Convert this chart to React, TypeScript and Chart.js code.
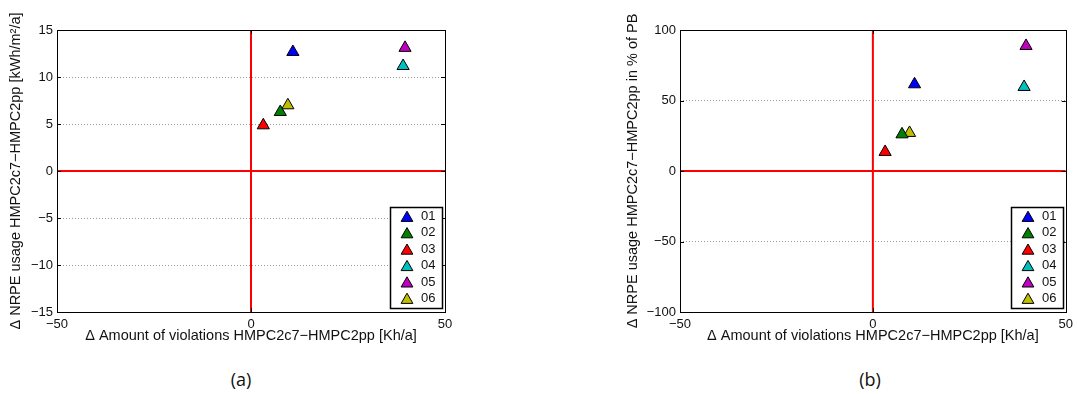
import React, { useEffect, useRef } from 'react';
import { Chart, registerables } from 'chart.js';

Chart.register(...registerables);

// ---- data ----
const seriesLabels = ['01', '02', '03', '04', '05', '06'];
const seriesColors = ['#0000ff', '#008000', '#ff0000', '#00bfbf', '#bf00bf', '#bfbf00'];
const violations = [10.8, 7.55, 3.17, 39.2, 39.7, 9.5];
const nrpeAbs = [12.66, 6.28, 4.86, 11.17, 13.1, 6.99];
const nrpePct = [61.5, 26, 13.5, 59.6, 88.7, 27];
const xTicks = [-50, 0, 50];
const yTicksA = [-15, -10, -5, 0, 5, 10, 15];
const yTicksB = [-100, -50, 0, 50, 100];

const xTitle = '\u0394 Amount of violations HMPC2c7\u2212HMPC2pp [Kh/a]';
const yTitleA = '\u0394 NRPE usage HMPC2c7\u2212HMPC2pp [kWh/m\u00b2/a]';
const yTitleB = '\u0394 NRPE usage HMPC2c7\u2212HMPC2pp in % of PB';

const FONT = "'Liberation Sans', Arial, Helvetica, sans-serif";
const fmt = (v: number) => String(v).replace('-', '\u2212');

const framePlugin = {
  id: 'frame',
  afterDatasetsDraw(chart: any) {
    const { ctx, chartArea: a, scales } = chart;
    ctx.save();
    ctx.strokeStyle = '#000';
    ctx.lineWidth = 1;
    const tl = 4;
    ctx.beginPath();
    for (const t of scales.y.ticks) {
      const py = Math.round(scales.y.getPixelForValue(t.value)) + 0.5;
      ctx.moveTo(a.left, py); ctx.lineTo(a.left + tl, py);
      ctx.moveTo(a.right, py); ctx.lineTo(a.right - tl, py);
    }
    for (const t of scales.x.ticks) {
      const px = Math.round(scales.x.getPixelForValue(t.value)) + 0.5;
      ctx.moveTo(px, a.bottom); ctx.lineTo(px, a.bottom - tl);
      ctx.moveTo(px, a.top); ctx.lineTo(px, a.top + tl);
    }
    ctx.stroke();
    ctx.strokeRect(Math.round(a.left) + 0.5, Math.round(a.top) + 0.5, Math.round(a.right - a.left), Math.round(a.bottom - a.top));
    ctx.restore();
  },
};

function triangle(ctx: CanvasRenderingContext2D, x: number, y: number, r: number) {
  ctx.beginPath();
  let rad = 0;
  ctx.moveTo(x + Math.sin(rad) * r, y - Math.cos(rad) * r);
  rad += (2 * Math.PI) / 3;
  ctx.lineTo(x + Math.sin(rad) * r, y - Math.cos(rad) * r);
  rad += (2 * Math.PI) / 3;
  ctx.lineTo(x + Math.sin(rad) * r, y - Math.cos(rad) * r);
  ctx.closePath();
}

const legendPlugin = {
  id: 'boxLegend',
  afterDraw(chart: any) {
    const { ctx, chartArea: a } = chart;
    const items = chart.data.datasets.filter((d: any) => !d.isRef);
    const w = 52, rowH = 16.4;
    const h = 101;
    const right = Math.round(a.right) - 3;
    const bottom = Math.round(a.bottom) - 4;
    const left = right - w, top = bottom - h;
    ctx.save();
    ctx.fillStyle = '#fff';
    ctx.fillRect(left, top, w, h);
    ctx.strokeStyle = '#000';
    ctx.lineWidth = 1.5;
    ctx.strokeRect(left + 0.5, top + 0.5, w, h);
    ctx.font = `13px ${FONT}`;
    ctx.textBaseline = 'middle';
    ctx.textAlign = 'left';
    items.forEach((d: any, i: number) => {
      const cy = top + 9.5 + i * rowH + 1.5;
      triangle(ctx, left + 17, cy, 6.8);
      ctx.fillStyle = d.backgroundColor;
      ctx.fill();
      ctx.lineWidth = 1;
      ctx.strokeStyle = '#000';
      ctx.stroke();
      ctx.fillStyle = '#111';
      ctx.fillText(d.label, left + 31, top + 9.5 + i * rowH);
    });
    ctx.restore();
  },
};

type PanelProps = {
  yValues: number[];
  yTicks: number[];
  yTitle: string;
  padLeft: number;
  padRight: number;
  yAxisWidth: number;
};

function Panel({ yValues, yTicks, yTitle, padLeft, padRight, yAxisWidth }: PanelProps) {
  const ref = useRef<HTMLCanvasElement | null>(null);
  useEffect(() => {
    if (!ref.current) return;
    const yMin = yTicks[0];
    const yMax = yTicks[yTicks.length - 1];
    const xMin = xTicks[0];
    const xMax = xTicks[xTicks.length - 1];
    const pointSets = seriesLabels.map((lab, i) => ({
      label: lab,
      data: [{ x: violations[i], y: yValues[i] }],
      backgroundColor: seriesColors[i],
      borderColor: '#000',
      borderWidth: 1,
      pointStyle: 'triangle',
      pointRadius: 7,
      showLine: false,
    }));
    const refSets = [
      { isRef: true, label: 'vref', data: [{ x: 0, y: yMin }, { x: 0, y: yMax }] },
      { isRef: true, label: 'href', data: [{ x: xMin, y: 0 }, { x: xMax, y: 0 }] },
    ].map((d) => ({
      ...d,
      showLine: true,
      borderColor: '#ff0000',
      borderWidth: 2,
      pointRadius: 0,
      backgroundColor: '#ff0000',
    }));
    const chart = new Chart(ref.current, {
      type: 'scatter',
      data: { datasets: [...pointSets, ...refSets] as any },
      plugins: [framePlugin, legendPlugin],
      options: {
        animation: false,
        responsive: false,
        events: [],
        layout: { padding: { left: padLeft, top: 30, right: padRight, bottom: 0 } },
        plugins: { legend: { display: false }, tooltip: { enabled: false } },
        scales: {
          x: {
            type: 'linear',
            min: xMin,
            max: xMax,
            afterBuildTicks: (s: any) => { s.ticks = xTicks.map((v) => ({ value: v })); },
            afterFit: (s: any) => { s.height = 40; },
            grid: { display: false, drawTicks: false },
            border: { display: false },
            ticks: {
              padding: 5,
              color: '#111',
              font: { family: FONT, size: 13 },
              maxRotation: 0,
              callback: (v: any) => fmt(v),
            },
            title: {
              display: true,
              text: xTitle,
              color: '#111',
              font: { family: FONT, size: 14.5 },
              padding: { top: 0, bottom: 7 },
            },
          },
          y: {
            type: 'linear',
            min: yMin,
            max: yMax,
            afterBuildTicks: (s: any) => { s.ticks = yTicks.map((v) => ({ value: v })); },
            afterFit: (s: any) => { s.width = yAxisWidth; },
            grid: {
              drawTicks: false,
              color: (c: any) =>
                c.tick && (c.tick.value === 0 || c.tick.value === yMin || c.tick.value === yMax)
                  ? 'rgba(0,0,0,0)'
                  : '#9a9a9a',
              lineWidth: 1,
            },
            border: { display: false, dash: [1, 2] },
            ticks: {
              padding: 4,
              color: '#111',
              font: { family: FONT, size: 13 },
              callback: (v: any) => fmt(v),
            },
            title: {
              display: true,
              text: yTitle,
              color: '#111',
              font: { family: FONT, size: 14.5 },
              padding: { top: 7, bottom: 0 },
            },
          },
        },
      } as any,
    });
    return () => chart.destroy();
  }, []);
  return (
    <canvas ref={ref} width={539} height={352} style={{ width: 539, height: 352, display: 'block' }} />
  );
}

const captionStyle: React.CSSProperties = {
  position: 'absolute',
  top: 367,
  width: 60,
  textAlign: 'center',
  fontFamily: "'Open Sans', 'DejaVu Sans', sans-serif",
  fontSize: 18,
  lineHeight: '24px',
  color: '#111',
};

export default function App() {
  return (
    <div style={{ position: 'absolute', left: 0, top: 0, width: 1078, height: 394, background: '#fff', overflow: 'hidden' }}>
      <div style={{ position: 'absolute', left: 0, top: 0 }}>
        <Panel yValues={nrpeAbs} yTicks={yTicksA} yTitle={yTitleA} padLeft={0} padRight={94} yAxisWidth={57} />
      </div>
      <div style={{ position: 'absolute', left: 539, top: 0 }}>
        <Panel yValues={nrpePct} yTicks={yTicksB} yTitle={yTitleB} padLeft={78} padRight={9} yAxisWidth={63} />
      </div>
      <div style={{ ...captionStyle, left: 211 }}>(a)</div>
      <div style={{ ...captionStyle, left: 840 }}>(b)</div>
    </div>
  );
}
